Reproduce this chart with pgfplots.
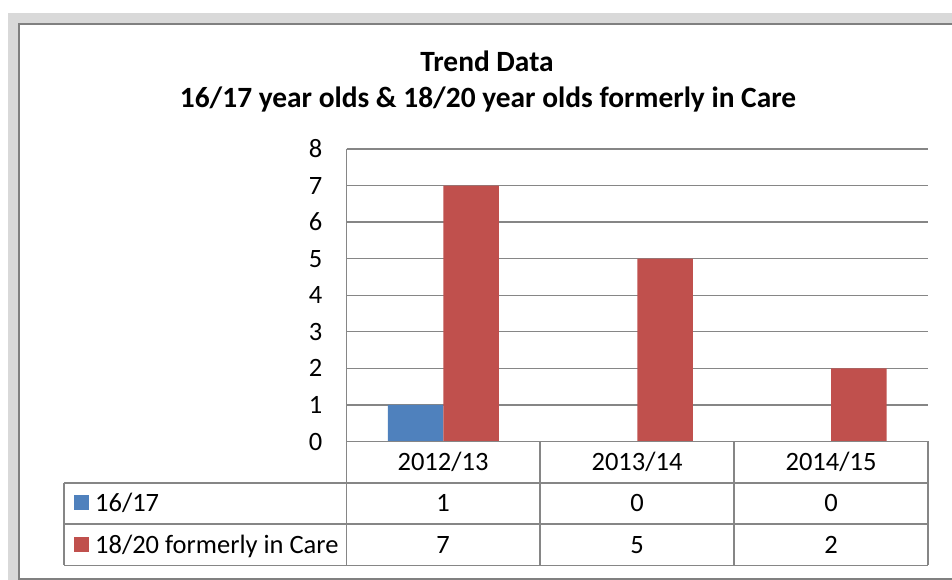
\documentclass[border=0pt]{standalone}
\usepackage{pgfplots}
\pgfplotsset{compat=1.18}
\usepackage{fontspec}
\setmainfont{Carlito}
\definecolor{band}{RGB}{217,217,217}
\definecolor{framec}{RGB}{128,128,128}
\definecolor{gridc}{RGB}{134,134,134}
\definecolor{xlblue}{RGB}{79,129,189}
\definecolor{xlred}{RGB}{192,80,77}
\newcommand\body{\fontsize{26.5}{31}\selectfont}
\newcommand\ttl{\fontsize{29.4}{34}\selectfont\bfseries}
\begin{document}
\begin{tikzpicture}[x=1pt,y=1pt]
\fill[white] (0,0) rectangle (952,580);
\fill[band] (8,0) rectangle (952,567);
\fill[white] (19,1) rectangle (952,556);
\draw[framec, line width=2pt] (19,0) -- (19,556) -- (952,556);
\draw[framec, line width=2pt] (19,1) -- (952,1);
\node[anchor=base, font=\ttl, inner sep=0pt] at (487,508) {Trend Data};
\node[anchor=base, font=\ttl, inner sep=0pt] at (488,472) {16/17 year olds \& 18/20 year olds formerly in Care};
\begin{axis}[at={(346.5pt,138.5pt)}, anchor=south west, scale only axis,
  width=581.5pt, height=292.5pt,
  xmin=-0.5, xmax=2.5, ymin=0, ymax=8, ytick={0,...,8}, xtick=\empty,
  axis line style={draw=none}, ymajorgrids,
  grid style={gridc, line width=1.3pt}, major tick length=0pt,
  yticklabel style={font=\body, inner sep=0pt, xshift=-24pt},
  /pgf/number format/assume math mode=true,
  ybar, bar width=55.5pt, clip=false]
\addplot[fill=xlblue, draw=none, bar shift=-27.75pt] coordinates {(0,1) (1,0) (2,0)};
\addplot[fill=xlred, draw=none, bar shift=27.75pt] coordinates {(0,7) (1,5) (2,2)};
\end{axis}
% data table
\begin{scope}[gridc, line width=1.3pt]
\draw (346.5,431) -- (346.5,14.5);
\draw (346.5,138.5) -- (928,138.5);
\draw (64,97) -- (928,97);
\draw (64,56) -- (928,56);
\draw (64,14.5) -- (928,14.5);
\draw (64,97) -- (64,14.5);
\draw (540,138.5) -- (540,14.5);
\draw (734,138.5) -- (734,14.5);
\draw (928,138.5) -- (928,14.5);
\end{scope}
\begin{scope}[every node/.style={anchor=base, font=\body, inner sep=0pt}]
\node at (443,109.3) {2012/13};
\node at (637,109.3) {2013/14};
\node at (831,109.3) {2014/15};
\node at (443,68.3) {1};
\node at (637,68.3) {0};
\node at (831,68.3) {0};
\node at (443,26.7) {7};
\node at (637,26.7) {5};
\node at (831,26.7) {2};
\node[anchor=base west] at (95,68.3) {16/17};
\node[anchor=base west] at (95,26.7) {18/20 formerly in Care};
\end{scope}
\fill[xlblue] (74,70) rectangle (89,85);
\fill[xlred] (74,28) rectangle (89,43);
\pgfresetboundingbox
\path[use as bounding box] (0,0) rectangle (952,580);
\end{tikzpicture}
\end{document}
